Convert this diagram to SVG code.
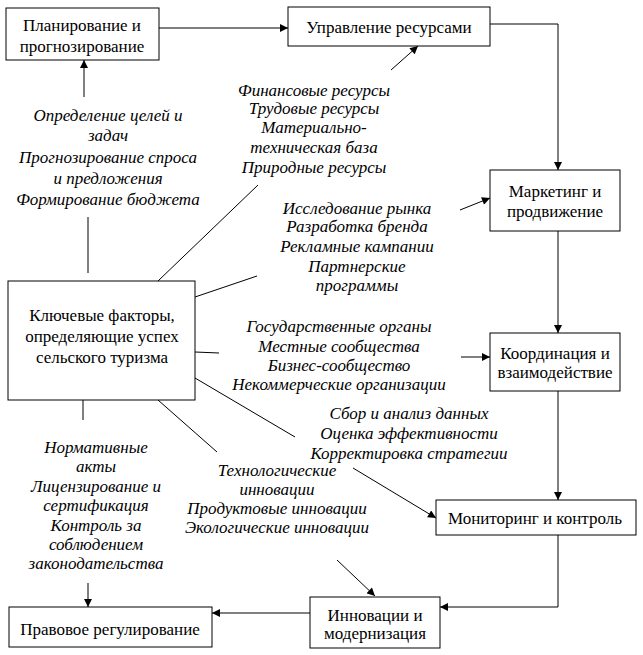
<svg xmlns="http://www.w3.org/2000/svg" width="643" height="655" viewBox="0 0 643 655">
<defs>
<marker id="ah" viewBox="0 0 10 10" refX="10" refY="5" markerWidth="9" markerHeight="8" markerUnits="userSpaceOnUse" orient="auto">
<path d="M0,0 L10,5 L0,10 z" fill="#000"/>
</marker>
<style>
.box{fill:#fff;stroke:#000;stroke-width:1}
.bt{font-family:'Liberation Serif','Liberation Sans',serif;font-size:17px;text-anchor:middle;fill:#000}
.it{font-family:'Liberation Serif','Liberation Sans',serif;font-size:17px;font-style:italic;text-anchor:middle;fill:#000}
.ln{fill:none;stroke:#000;stroke-width:1}
.ar{fill:none;stroke:#000;stroke-width:1;marker-end:url(#ah)}
</style>
</defs>
<rect width="643" height="655" fill="#fff"/>

<g id="connectors">
<line class="ar" x1="159" y1="28" x2="288" y2="28"/>
<polyline class="ar" points="490,24 558,24 558,170"/>
<line class="ar" x1="558" y1="231" x2="558" y2="333"/>
<line class="ar" x1="558" y1="391" x2="558" y2="500"/>
<polyline class="ar" points="558,535 558,607 440,607"/>
<line class="ar" x1="310" y1="613" x2="212" y2="613"/>
<line class="ar" x1="84" y1="97" x2="84" y2="60"/>
<line class="ar" x1="391" y1="70" x2="418" y2="46"/>
<line class="ar" x1="460" y1="210" x2="490" y2="198"/>
<line class="ar" x1="461" y1="357" x2="490" y2="357"/>
<line class="ar" x1="353" y1="468" x2="436" y2="518"/>
<line class="ar" x1="337" y1="560" x2="375" y2="596"/>
<line class="ar" x1="88" y1="583" x2="88" y2="607"/>
<line class="ln" x1="88" y1="217" x2="88" y2="273"/>
<line class="ln" x1="158" y1="281" x2="258" y2="185"/>
<line class="ln" x1="195" y1="297" x2="257" y2="276"/>
<line class="ln" x1="195" y1="352" x2="219" y2="353"/>
<line class="ln" x1="195" y1="378" x2="295" y2="437"/>
<line class="ln" x1="158" y1="400" x2="217" y2="452"/>
<line class="ln" x1="83" y1="400" x2="83" y2="420"/>
</g>

<g id="planning">
<rect class="box" x="6" y="8" width="153" height="52"/>
<text class="bt" x="82" y="31">Планирование и</text>
<text class="bt" x="82" y="52">прогнозирование</text>
</g>

<g id="resources">
<rect class="box" x="288" y="7" width="202" height="39"/>
<text class="bt" x="389" y="33">Управление ресурсами</text>
</g>

<g id="marketing">
<rect class="box" x="490" y="170" width="130" height="61"/>
<text class="bt" x="555" y="197">Маркетинг и</text>
<text class="bt" x="555" y="217">продвижение</text>
</g>

<g id="coordination">
<rect class="box" x="490" y="333" width="130" height="58"/>
<text class="bt" x="555" y="359">Координация и</text>
<text class="bt" x="555" y="378">взаимодействие</text>
</g>

<g id="key">
<rect class="box" x="8" y="281" width="187" height="119"/>
<text class="bt" x="102" y="321">Ключевые факторы,</text>
<text class="bt" x="102" y="342">определяющие успех</text>
<text class="bt" x="102" y="363">сельского туризма</text>
</g>

<g id="monitoring">
<rect class="box" x="436" y="500" width="200" height="35"/>
<text class="bt" x="535" y="524">Мониторинг и контроль</text>
</g>

<g id="innovation">
<rect class="box" x="310" y="597" width="130" height="51"/>
<text class="bt" x="375" y="621">Инновации и</text>
<text class="bt" x="375" y="639">модернизация</text>
</g>

<g id="legal">
<rect class="box" x="9" y="607" width="203" height="40"/>
<text class="bt" x="110" y="635">Правовое регулирование</text>
</g>

<g id="labels">
<text class="it" x="108" y="121">Определение целей и</text>
<text class="it" x="108" y="141">задач</text>
<text class="it" x="108" y="163">Прогнозирование спроса</text>
<text class="it" x="108" y="184">и предложения</text>
<text class="it" x="108" y="205">Формирование бюджета</text>

<text class="it" x="314" y="96">Финансовые ресурсы</text>
<text class="it" x="314" y="114">Трудовые ресурсы</text>
<text class="it" x="314" y="133">Материально-</text>
<text class="it" x="314" y="153">техническая база</text>
<text class="it" x="314" y="173">Природные ресурсы</text>

<text class="it" x="357" y="214">Исследование рынка</text>
<text class="it" x="357" y="232">Разработка бренда</text>
<text class="it" x="357" y="252">Рекламные кампании</text>
<text class="it" x="357" y="272">Партнерские</text>
<text class="it" x="357" y="291">программы</text>

<text class="it" x="339" y="332">Государственные органы</text>
<text class="it" x="339" y="352">Местные сообщества</text>
<text class="it" x="339" y="371">Бизнес-сообщество</text>
<text class="it" x="339" y="390">Некоммерческие организации</text>

<text class="it" x="409" y="419">Сбор и анализ данных</text>
<text class="it" x="409" y="439">Оценка эффективности</text>
<text class="it" x="409" y="459">Корректировка стратегии</text>

<text class="it" x="277" y="476">Технологические</text>
<text class="it" x="277" y="495">инновации</text>
<text class="it" x="277" y="514">Продуктовые инновации</text>
<text class="it" x="277" y="533">Экологические инновации</text>

<text class="it" x="96" y="453">Нормативные</text>
<text class="it" x="96" y="472">акты</text>
<text class="it" x="96" y="492">Лицензирование и</text>
<text class="it" x="96" y="511">сертификация</text>
<text class="it" x="96" y="531">Контроль за</text>
<text class="it" x="96" y="550">соблюдением</text>
<text class="it" x="96" y="569">законодательства</text>
</g>
</svg>
